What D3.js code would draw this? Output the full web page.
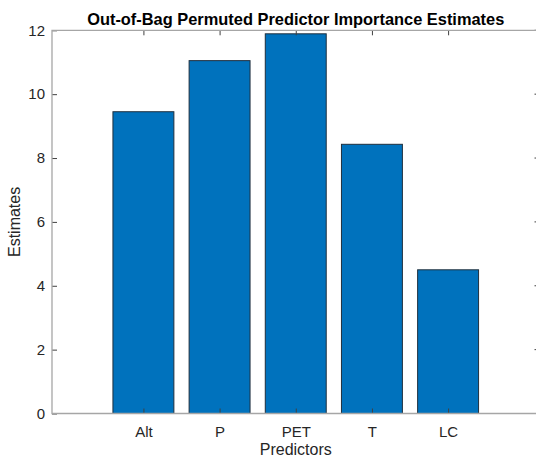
<!DOCTYPE html>
<html><head><meta charset="utf-8">
<script src="https://cdn.jsdelivr.net/npm/d3@7"></script>
<style>html,body{margin:0;padding:0;background:#fff;overflow:hidden;width:536px;height:458px}svg{display:block;overflow:hidden}text{font-family:"Liberation Sans",Arial,Helvetica,sans-serif}</style>
</head><body>
<script>
const categories = ["Alt","P","PET","T","LC"];
const values = [9.45, 11.05, 11.89, 8.43, 4.50];
const yTicks = [0,2,4,6,8,10,12];
const title = "Out-of-Bag Permuted Predictor Importance Estimates";
const xLabel = "Predictors";
const yLabel = "Estimates";

const W = 536, H = 458;
const m = {left:52, top:30.3, right:539.5, bottom:413.5};
const svg = d3.select("body").append("svg").attr("width",W).attr("height",H).attr("viewBox",`0 0 ${W} ${H}`);

const x = d3.scaleLinear().domain([-0.2, 6.2]).range([m.left, m.right]);
const y = d3.scaleLinear().domain([0,12]).range([m.bottom, m.top]);
const idx = categories.map((c,i)=>i+1);
const bw = x(0.8) - x(0);

svg.append("g").selectAll("rect").data(values).join("rect")
  .attr("x",(d,i)=>x(idx[i]) - bw/2)
  .attr("y",d=>y(d))
  .attr("width",bw)
  .attr("height",d=>y(0)-y(d))
  .attr("fill","#0072BD")
  .attr("stroke","#1f2f3d")
  .attr("stroke-width",1);

const axisColor = "#a6a6a6";
const txtColor = "#262626";
const tick = 5;

const xb = d3.axisBottom(x).tickValues(idx).tickFormat((d,i)=>categories[i]).tickSizeInner(-tick).tickSizeOuter(0).tickPadding(13);
const gx = svg.append("g").attr("transform",`translate(0,${m.bottom})`).call(xb);
const xt = d3.axisTop(x).tickValues(idx).tickFormat("").tickSizeInner(-tick).tickSizeOuter(0);
const gxt = svg.append("g").attr("transform",`translate(0,${m.top})`).call(xt);
const yl = d3.axisLeft(y).tickValues(yTicks).tickFormat(d3.format("d")).tickSizeInner(-tick).tickSizeOuter(0).tickPadding(7);
const gy = svg.append("g").attr("transform",`translate(${m.left},0)`).call(yl);

[gx,gxt,gy].forEach(g=>{
  g.selectAll(".tick line").attr("stroke","#404040").attr("stroke-width",1);
  g.selectAll(".tick text").attr("fill",txtColor).attr("font-size",15);
  g.select(".domain").remove();
});
// right-side inward ticks (axis line itself is beyond the window edge)
svg.append("g").selectAll("line").data(yTicks).join("line")
  .attr("x1",m.right - tick).attr("x2",m.right)
  .attr("y1",d=>y(d)).attr("y2",d=>y(d))
  .attr("stroke","#404040").attr("stroke-width",1);

svg.append("path")
  .attr("d",`M${m.right},${m.top}H${m.left}V${m.bottom}H${m.right}`)
  .attr("fill","none").attr("stroke",axisColor).attr("stroke-width",1.3);

svg.append("text").attr("x",(m.left+m.right)/2).attr("y",25).attr("text-anchor","middle")
  .attr("font-size",16.4).attr("font-weight","bold").attr("fill","#000").text(title);
svg.append("text").attr("x",(m.left+m.right)/2).attr("y",455).attr("text-anchor","middle")
  .attr("font-size",16).attr("fill",txtColor).text(xLabel);
svg.append("text").attr("transform",`translate(20,${(m.top+m.bottom)/2}) rotate(-90)`).attr("text-anchor","middle")
  .attr("font-size",16).attr("fill",txtColor).text(yLabel);
</script>
</body></html>
